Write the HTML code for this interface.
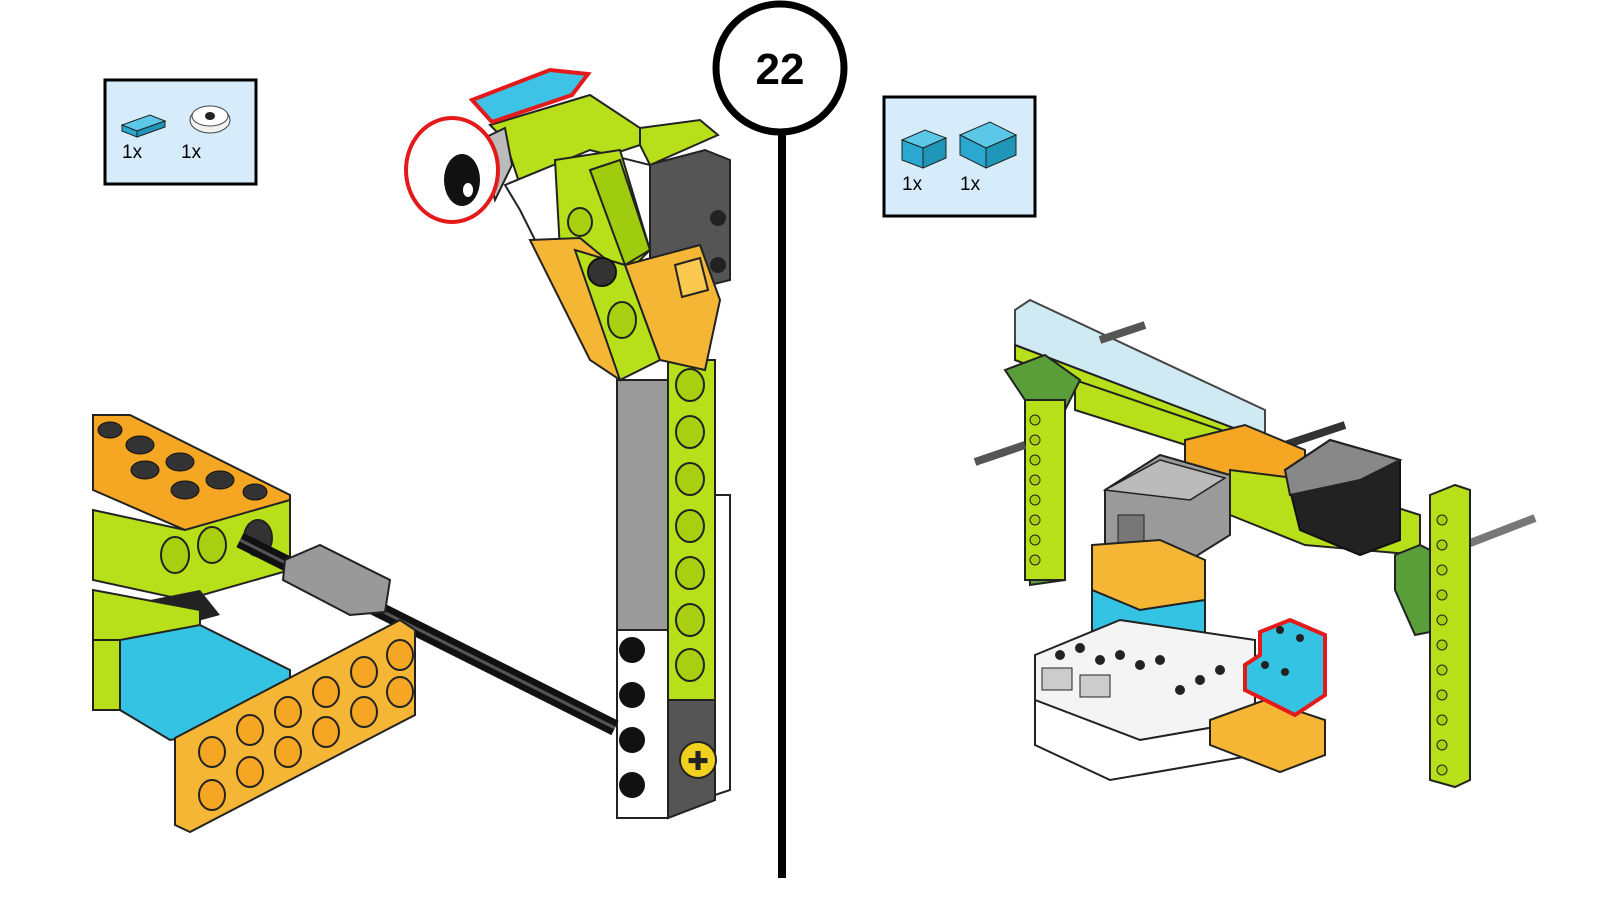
<!DOCTYPE html>
<html><head><meta charset="utf-8"><style>
html,body{margin:0;padding:0;background:#fff;}
svg{display:block;}
text{font-family:"Liberation Sans",sans-serif;}
</style></head><body>
<svg width="1600" height="900" viewBox="0 0 1600 900" xmlns="http://www.w3.org/2000/svg">
<defs>
<pattern id="studO" width="40" height="40" patternUnits="userSpaceOnUse"><ellipse cx="20" cy="20" rx="13" ry="10" fill="#f5a623" stroke="#222" stroke-width="2"/><ellipse cx="20" cy="16" rx="13" ry="9" fill="#fbb93d" stroke="#222" stroke-width="1.5"/></pattern>
</defs>
<rect width="1600" height="900" fill="#fff"/>

<!-- step number -->
<line x1="782" y1="130" x2="782" y2="878" stroke="#000" stroke-width="8"/>
<circle cx="780" cy="68" r="64" fill="#fff" stroke="#000" stroke-width="7"/>
<text x="780" y="84" font-size="44" font-weight="bold" text-anchor="middle">22</text>

<!-- parts box left -->
<rect x="105" y="80" width="151" height="104" fill="#d6ecfb" stroke="#000" stroke-width="3"/>
<polygon points="122,125 150,115 165,121 137,131" fill="#5cc8e8" stroke="#222"/>
<polygon points="122,125 137,131 137,137 122,131" fill="#2aa8cf" stroke="#222"/>
<polygon points="137,131 165,121 165,127 137,137" fill="#1f95b8" stroke="#222"/>
<ellipse cx="210" cy="120" rx="20" ry="13" fill="#f2f2f2" stroke="#444"/>
<ellipse cx="210" cy="116" rx="18" ry="10" fill="#fff" stroke="#444"/>
<ellipse cx="210" cy="116" rx="5" ry="4" fill="#222"/>
<text x="122" y="158" font-size="19">1x</text>
<text x="181" y="158" font-size="19">1x</text>

<!-- parts box right -->
<rect x="884" y="97" width="151" height="119" fill="#d6ecfb" stroke="#000" stroke-width="3"/>
<polygon points="902,140 925,130 946,138 923,148" fill="#5cc8e8" stroke="#222"/>
<polygon points="902,140 923,148 923,168 902,160" fill="#2aa8cf" stroke="#222"/>
<polygon points="923,148 946,138 946,158 923,168" fill="#1f95b8" stroke="#222"/>
<polygon points="960,135 990,122 1016,135 986,148" fill="#5cc8e8" stroke="#222"/>
<polygon points="960,135 986,148 986,168 960,155" fill="#2aa8cf" stroke="#222"/>
<polygon points="986,148 1016,135 1016,155 986,168" fill="#1f95b8" stroke="#222"/>
<text x="902" y="190" font-size="19">1x</text>
<text x="960" y="190" font-size="19">1x</text>

<!-- LEFT MODEL -->
<!-- rear white plate -->
<polygon points="700,495 730,495 730,790 700,800" fill="#fff" stroke="#222" stroke-width="2"/>
<!-- dark grey block -->
<polygon points="648,165 705,150 730,160 730,280 690,290 648,280" fill="#555" stroke="#222" stroke-width="2"/>
<circle cx="718" cy="218" r="8" fill="#222"/><circle cx="718" cy="265" r="8" fill="#222"/>
<!-- tall beam -->
<rect x="617" y="380" width="51" height="250" fill="#9a9a9a" stroke="#222" stroke-width="2"/>
<rect x="668" y="360" width="47" height="340" fill="#b8e01a" stroke="#222" stroke-width="2"/>
<g fill="#a8d010" stroke="#222" stroke-width="2">
<ellipse cx="690" cy="385" rx="14" ry="16"/><ellipse cx="690" cy="432" rx="14" ry="16"/><ellipse cx="690" cy="479" rx="14" ry="16"/><ellipse cx="690" cy="526" rx="14" ry="16"/><ellipse cx="690" cy="573" rx="14" ry="16"/><ellipse cx="690" cy="620" rx="14" ry="16"/><ellipse cx="690" cy="665" rx="14" ry="16"/>
</g>
<rect x="617" y="630" width="51" height="188" fill="#fff" stroke="#222" stroke-width="2"/>
<polygon points="668,700 715,700 715,800 668,818" fill="#555" stroke="#222" stroke-width="2"/>
<g fill="#111"><circle cx="632" cy="650" r="13"/><circle cx="632" cy="695" r="13"/><circle cx="632" cy="740" r="13"/><circle cx="632" cy="785" r="13"/></g>
<circle cx="698" cy="760" r="18" fill="#f2d020" stroke="#222" stroke-width="2"/>
<text x="698" y="770" font-size="26" text-anchor="middle" fill="#222">✚</text>
<!-- head -->
<polygon points="490,125 590,95 640,128 640,145 520,185 505,140" fill="#b8e01a" stroke="#222" stroke-width="2"/>
<polygon points="640,128 700,120 718,135 650,165 640,145" fill="#b8e01a" stroke="#222" stroke-width="2"/>
<polygon points="505,185 590,150 650,165 650,280 600,300 540,250 520,210" fill="#fff" stroke="#222" stroke-width="2"/>
<polygon points="555,160 620,150 650,250 620,280 560,250" fill="#b8e01a" stroke="#222" stroke-width="2"/>
<polygon points="590,170 620,160 650,250 625,265" fill="#a0cc10" stroke="#222" stroke-width="2"/>
<polygon points="530,240 580,238 625,275 620,380 590,360" fill="#f5b635" stroke="#222" stroke-width="2"/>
<polygon points="575,250 625,265 660,360 620,380" fill="#b8e01a" stroke="#222" stroke-width="2"/>
<polygon points="625,265 700,245 720,300 705,370 660,360" fill="#f5b635" stroke="#222" stroke-width="2"/>
<polygon points="675,265 700,258 708,290 682,297" fill="#fbc850" stroke="#222" stroke-width="2"/>
<circle cx="602" cy="272" r="14" fill="#333" stroke="#111" stroke-width="2"/>
<ellipse cx="580" cy="222" rx="12" ry="14" fill="#a8d010" stroke="#222" stroke-width="2"/>
<ellipse cx="622" cy="320" rx="14" ry="18" fill="#a8d010" stroke="#222" stroke-width="2"/>
<!-- blue tile -->
<polygon points="472,100 550,70 588,74 572,95 492,122" fill="#3ec3e6" stroke="#e41a1a" stroke-width="4"/>
<!-- eye -->
<polygon points="480,140 505,128 512,165 495,200" fill="#bbb" stroke="#222" stroke-width="2"/>
<ellipse cx="452" cy="170" rx="46" ry="52" fill="#fff" stroke="#e41a1a" stroke-width="4"/>
<ellipse cx="462" cy="180" rx="18" ry="26" fill="#111"/>
<ellipse cx="468" cy="190" rx="5" ry="7" fill="#fff"/>

<!-- left assembly -->
<polygon points="93,415 130,415 290,495 290,530 185,530 93,490" fill="#f5a623" stroke="#222" stroke-width="2"/>
<g fill="#333" stroke="#111"><ellipse cx="140" cy="445" rx="14" ry="9"/><ellipse cx="180" cy="462" rx="14" ry="9"/><ellipse cx="220" cy="480" rx="14" ry="9"/><ellipse cx="110" cy="430" rx="12" ry="8"/><ellipse cx="145" cy="470" rx="14" ry="9"/><ellipse cx="185" cy="490" rx="14" ry="9"/><ellipse cx="255" cy="492" rx="12" ry="8"/></g>
<polygon points="93,510 185,530 290,500 290,570 185,600 93,580" fill="#b8e01a" stroke="#222" stroke-width="2"/>
<ellipse cx="175" cy="555" rx="14" ry="18" fill="#a8d010" stroke="#222" stroke-width="2"/>
<ellipse cx="212" cy="545" rx="14" ry="18" fill="#a8d010" stroke="#222" stroke-width="2"/>
<ellipse cx="258" cy="538" rx="14" ry="18" fill="#333" stroke="#222" stroke-width="2"/>
<polygon points="150,600 200,590 220,615 165,630" fill="#222"/>
<polygon points="93,590 200,610 200,640 93,690" fill="#b8e01a" stroke="#222" stroke-width="2"/>
<polygon points="120,640 200,625 290,670 290,720 170,740 120,710" fill="#35c3e3" stroke="#222" stroke-width="2"/>
<polygon points="93,640 120,640 120,710 93,710" fill="#b8e01a" stroke="#222" stroke-width="2"/>
<!-- axle -->
<line x1="240" y1="540" x2="615" y2="728" stroke="#111" stroke-width="16"/>
<line x1="240" y1="540" x2="615" y2="728" stroke="#555" stroke-width="3"/>
<polygon points="285,560 320,545 390,580 385,612 350,615 283,580" fill="#999" stroke="#222" stroke-width="2"/>
<!-- big orange plate -->
<polygon points="175,738 400,620 415,630 415,715 190,832 175,825" fill="#f5b635" stroke="#222" stroke-width="2"/>
<g fill="#f5a623" stroke="#222" stroke-width="2">
<ellipse cx="212" cy="795" rx="13" ry="15"/><ellipse cx="250" cy="772" rx="13" ry="15"/><ellipse cx="288" cy="752" rx="13" ry="15"/><ellipse cx="326" cy="732" rx="13" ry="15"/><ellipse cx="364" cy="712" rx="13" ry="15"/><ellipse cx="400" cy="692" rx="13" ry="15"/>
<ellipse cx="212" cy="752" rx="13" ry="15"/><ellipse cx="250" cy="730" rx="13" ry="15"/><ellipse cx="288" cy="712" rx="13" ry="15"/><ellipse cx="326" cy="692" rx="13" ry="15"/><ellipse cx="364" cy="672" rx="13" ry="15"/><ellipse cx="400" cy="655" rx="13" ry="15"/>
</g>

<!-- RIGHT MODEL -->
<!-- clear beam -->
<polygon points="1015,310 1030,300 1265,410 1265,440 1015,345" fill="#cfeaf3" stroke="#444" stroke-width="2"/>
<polygon points="1015,345 1265,440 1265,455 1015,360" fill="#b8e01a" stroke="#222" stroke-width="2"/>
<polygon points="1075,380 1265,445 1265,470 1075,410" fill="#b8e01a" stroke="#222" stroke-width="2"/>
<line x1="1100" y1="340" x2="1145" y2="325" stroke="#555" stroke-width="8"/>
<line x1="1270" y1="450" x2="1345" y2="425" stroke="#333" stroke-width="8"/>
<line x1="1465" y1="545" x2="1535" y2="518" stroke="#777" stroke-width="8"/>
<!-- left green vertical -->
<polygon points="1005,370 1045,355 1080,380 1065,410 1065,580 1030,585 1025,400" fill="#5a9e3a" stroke="#222" stroke-width="2"/>
<rect x="1025" y="400" width="40" height="180" fill="#b8e01a" stroke="#222" stroke-width="2"/>
<g fill="#a8d010" stroke="#222"><circle cx="1035" cy="420" r="5"/><circle cx="1035" cy="440" r="5"/><circle cx="1035" cy="460" r="5"/><circle cx="1035" cy="480" r="5"/><circle cx="1035" cy="500" r="5"/><circle cx="1035" cy="520" r="5"/><circle cx="1035" cy="540" r="5"/><circle cx="1035" cy="560" r="5"/></g>
<line x1="975" y1="462" x2="1025" y2="445" stroke="#555" stroke-width="8"/>
<!-- center beam orange -->
<polygon points="1185,440 1245,425 1305,450 1305,540 1230,510 1185,490" fill="#f5a623" stroke="#222" stroke-width="2"/>
<polygon points="1230,470 1310,480 1420,515 1420,555 1305,545 1230,515" fill="#b8e01a" stroke="#222" stroke-width="2"/>
<!-- motor -->
<polygon points="1105,490 1160,455 1230,475 1230,535 1190,560 1105,555" fill="#9a9a9a" stroke="#222" stroke-width="2"/>
<polygon points="1105,490 1160,460 1225,478 1190,500" fill="#bbb" stroke="#222" stroke-width="1.5"/>
<rect x="1118" y="515" width="26" height="28" fill="#777" stroke="#222"/>
<!-- black/grey box -->
<polygon points="1285,470 1330,440 1400,460 1400,540 1360,555 1300,530" fill="#222" stroke="#111" stroke-width="2"/>
<polygon points="1285,470 1330,440 1400,460 1360,480 1290,495" fill="#888" stroke="#222" stroke-width="2"/>
<!-- orange/blue stack -->
<polygon points="1092,545 1160,540 1205,560 1205,600 1140,610 1092,590" fill="#f5b635" stroke="#222" stroke-width="2"/>
<polygon points="1092,590 1140,610 1205,600 1205,640 1140,660 1092,640" fill="#35c3e3" stroke="#222" stroke-width="2"/>
<!-- white hub -->
<polygon points="1035,655 1120,620 1255,640 1255,720 1140,740 1035,700" fill="#f4f4f4" stroke="#222" stroke-width="2"/>
<polygon points="1035,700 1140,740 1255,720 1255,755 1110,780 1035,745" fill="#fff" stroke="#222" stroke-width="2"/>
<g fill="#222"><circle cx="1060" cy="655" r="5"/><circle cx="1080" cy="648" r="5"/><circle cx="1100" cy="660" r="5"/><circle cx="1120" cy="655" r="5"/><circle cx="1140" cy="665" r="5"/><circle cx="1160" cy="660" r="5"/><circle cx="1180" cy="690" r="5"/><circle cx="1200" cy="680" r="5"/><circle cx="1220" cy="670" r="5"/></g>
<rect x="1042" y="668" width="30" height="22" fill="#ccc" stroke="#222"/>
<rect x="1080" y="675" width="30" height="22" fill="#ccc" stroke="#222"/>
<!-- orange base -->
<polygon points="1210,720 1265,700 1325,720 1325,755 1280,772 1210,745" fill="#f5b635" stroke="#222" stroke-width="2"/>
<!-- blue bricks highlighted -->
<polygon points="1260,632 1290,620 1325,635 1325,695 1295,715 1245,690 1245,665 1260,655" fill="#35c3e3" stroke="#e41a1a" stroke-width="4"/>
<g fill="#222"><circle cx="1280" cy="630" r="4"/><circle cx="1300" cy="638" r="4"/><circle cx="1265" cy="665" r="4"/><circle cx="1285" cy="672" r="4"/></g>
<!-- right green vertical -->
<polygon points="1395,555 1420,545 1450,560 1440,630 1415,635 1395,590" fill="#5a9e3a" stroke="#222" stroke-width="2"/>
<polygon points="1430,495 1455,485 1470,490 1470,780 1455,787 1430,780" fill="#b8e01a" stroke="#222" stroke-width="2"/>
<g fill="#a8d010" stroke="#222"><circle cx="1442" cy="520" r="5"/><circle cx="1442" cy="545" r="5"/><circle cx="1442" cy="570" r="5"/><circle cx="1442" cy="595" r="5"/><circle cx="1442" cy="620" r="5"/><circle cx="1442" cy="645" r="5"/><circle cx="1442" cy="670" r="5"/><circle cx="1442" cy="695" r="5"/><circle cx="1442" cy="720" r="5"/><circle cx="1442" cy="745" r="5"/><circle cx="1442" cy="770" r="5"/></g>
</svg>
</body></html>
